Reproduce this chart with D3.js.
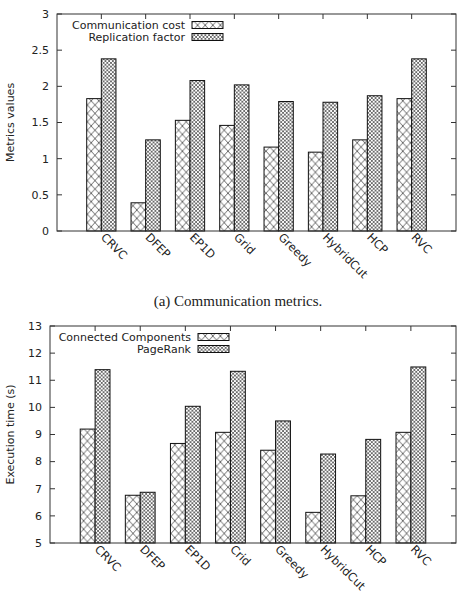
<!DOCTYPE html>
<html>
<head>
<meta charset="utf-8">
<script src="https://cdn.jsdelivr.net/npm/d3@7"></script>
<style>
  body { margin: 0; background: #fff; }
  text { font-family: "DejaVu Sans", sans-serif; fill: #222; }
  .cap { font-family: "Liberation Serif", "DejaVu Serif", serif; }
</style>
</head>
<body>
<script>
// data
var partitioners = ['CRVC', 'DFEP', 'EP1D', 'Grid', 'Greedy', 'HybridCut', 'HCP', 'RVC'];
var partitioners2 = ['CRVC', 'DFEP', 'EP1D', 'Crid', 'Greedy', 'HybridCut', 'HCP', 'RVC'];
var comm_cost = [1.83, 0.39, 1.53, 1.46, 1.16, 1.09, 1.26, 1.83];
var repl_factor = [2.38, 1.26, 2.08, 2.02, 1.79, 1.78, 1.87, 2.38];
var cc_time = [9.2, 6.76, 8.67, 9.08, 8.42, 6.13, 6.74, 9.08];
var pr_time = [11.39, 6.87, 10.04, 11.33, 9.5, 8.28, 8.82, 11.49];
var ticks_top = [0, 0.5, 1, 1.5, 2, 2.5, 3];
var ticks_bottom = [5, 6, 7, 8, 9, 10, 11, 12, 13];

var W = 461, H = 606;
var svg = d3.select('body').append('svg').attr('width', W).attr('height', H);

// hatch patterns like gnuplot's fill patterns
var defs = svg.append('defs');
function hatch(id, w, h, sw, col) {
  var p = defs.append('pattern').attr('id', id).attr('patternUnits', 'userSpaceOnUse')
    .attr('width', w).attr('height', h);
  p.append('rect').attr('width', w).attr('height', h).attr('fill', '#fff');
  p.append('path').attr('d', 'M0,0L' + w + ',' + h + 'M' + w + ',0L0,' + h)
    .attr('stroke', col).attr('stroke-width', sw).attr('fill', 'none');
}
hatch('big', 7.6, 8.4, 0.8, '#444');
hatch('dense', 3.7, 3.7, 0.75, '#444');

function chart(opt) {
  var g = svg.append('g');
  var x = d3.scaleLinear().domain([-1, 8]).range([opt.left, opt.right]);
  var y = d3.scaleLinear().domain(opt.ydomain).range([opt.bottom, opt.top]);
  var step = x(1) - x(0), bw = step * 0.33;

  // ticks (inside, mirrored)
  g.selectAll('.yt').data(opt.yticks).enter().append('path')
    .attr('d', d => 'M' + opt.left + ',' + y(d) + 'h5M' + opt.right + ',' + y(d) + 'h-5')
    .attr('stroke', '#333').attr('stroke-width', 1);
  g.selectAll('.xt').data(opt.cats).enter().append('path')
    .attr('d', (d, i) => 'M' + x(i) + ',' + opt.top + 'v5')
    .attr('stroke', '#333').attr('stroke-width', 1);

  g.selectAll('.yl').data(opt.yticks).enter().append('text')
    .attr('x', opt.left - 8).attr('y', d => y(d)).attr('dy', '0.35em')
    .attr('text-anchor', 'end').attr('font-size', 11).text(d => d);

  // bars
  [[opt.s1, 'big', -1], [opt.s2, 'dense', 0]].forEach(function(s) {
    g.selectAll(null).data(s[0]).enter().append('rect')
      .attr('x', (d, i) => x(i) + s[2] * bw).attr('width', bw)
      .attr('y', d => y(d)).attr('height', d => opt.bottom - y(d))
      .attr('fill', 'url(#' + s[1] + ')').attr('stroke', '#111').attr('stroke-width', 1);
  });

  g.append('rect').attr('x', opt.left).attr('y', opt.top)
    .attr('width', opt.right - opt.left).attr('height', opt.bottom - opt.top)
    .attr('fill', 'none').attr('stroke', '#333').attr('stroke-width', 1);

  // rotated category labels
  g.selectAll('.xl').data(opt.cats).enter().append('text')
    .attr('transform', (d, i) => 'translate(' + (x(i) - 1) + ',' + (opt.bottom + 7) + ') rotate(45)')
    .attr('font-size', 11.5).text(d => d);

  g.append('text').text(opt.ylabel)
    .attr('transform', 'translate(14,' + ((opt.top + opt.bottom) / 2) + ') rotate(-90)')
    .attr('text-anchor', 'middle').attr('font-size', 11);

  // key
  opt.keys.forEach(function(k, j) {
    var ky = opt.top + 11 + j * 12;
    g.append('text').attr('x', opt.keyX).attr('y', ky).attr('dy', '0.35em')
      .attr('text-anchor', 'end').attr('font-size', 11).text(k);
    g.append('rect').attr('x', opt.keyX + 7).attr('y', ky - 3.5).attr('width', 31).attr('height', 7)
      .attr('fill', 'url(#' + (j == 0 ? 'big' : 'dense') + ')').attr('stroke', '#111').attr('stroke-width', 1);
  });
}

chart({left: 57, right: 456, top: 14, bottom: 231, ydomain: [0, 3], yticks: ticks_top,
  cats: partitioners, s1: comm_cost, s2: repl_factor, ylabel: 'Metrics values',
  keys: ['Communication cost', 'Replication factor'], keyX: 185});

chart({left: 50, right: 456, top: 326, bottom: 543, ydomain: [5, 13], yticks: ticks_bottom,
  cats: partitioners2, s1: cc_time, s2: pr_time, ylabel: 'Execution time (s)',
  keys: ['Connected Components', 'PageRank'], keyX: 191});

svg.append('text').attr('class', 'cap').attr('x', 238).attr('y', 306)
  .attr('text-anchor', 'middle').attr('font-size', 15).text('(a) Communication metrics.');
</script>
</body>
</html>
